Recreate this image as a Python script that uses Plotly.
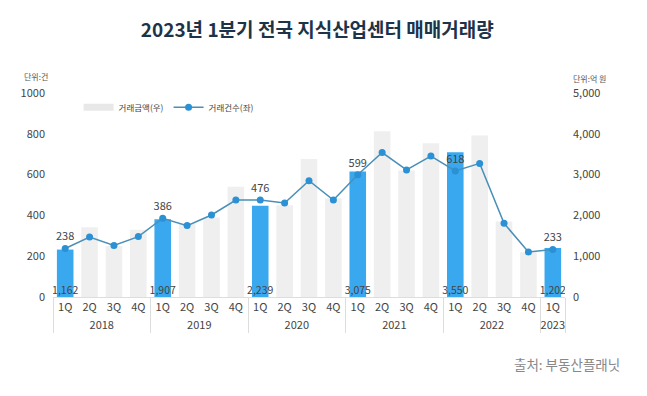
import plotly.graph_objects as go

years = ["2018"] * 4 + ["2019"] * 4 + ["2020"] * 4 + ["2021"] * 4 + ["2022"] * 4 + ["2023"]
quarters = ["1Q", "2Q", "3Q", "4Q"] * 5 + ["1Q"]

# 거래금액 (억 원, right axis)
amount = [1162, 1710, 1250, 1650,
          1907, 1800, 1950, 2700,
          2239, 2250, 3380, 2420,
          3075, 4060, 3100, 3770,
          3550, 3960, 1850, 1100,
          1202]
# 거래건수 (건, left axis)
count = [238, 294, 253, 296,
         386, 350, 402, 475,
         476, 461, 570, 475,
         599, 708, 623, 691,
         618, 655, 361, 221,
         233]

FONT = "Noto Sans CJK KR, Noto Sans, sans-serif"
BLUE = "#3AA8EE"
GRAY = "#EFEFEF"
LINE = "#4A8FB8"
DOT = "#2B90D4"

is_q1 = [q == "1Q" for q in quarters]
bar_colors = [BLUE if f else GRAY for f in is_q1]
bar_text = [f"{v:,}" if f else "" for v, f in zip(amount, is_q1)]
line_text = [f"{v}" if f else "" for v, f in zip(count, is_q1)]

fig = go.Figure()
fig.add_trace(go.Bar(
    x=[years, quarters], y=amount, name="거래금액(우)",
    marker=dict(color=bar_colors, line=dict(width=0)),
    width=0.68, yaxis="y", showlegend=False, hoverinfo="skip",
))
# legend proxy for gray bar (wide rectangle swatch)
fig.add_trace(go.Scatter(
    x=[[years[0]], [quarters[0]]], y=[None], name="거래금액(우)",
    mode="lines", line=dict(color="#E8E8E8", width=7), yaxis="y", showlegend=True,
))
fig.add_trace(go.Scatter(
    x=[years, quarters], y=[0] * len(amount), mode="text",
    text=bar_text, textposition="top center",
    textfont=dict(family=FONT, size=10.5, color="#444"),
    yaxis="y", showlegend=False, hoverinfo="skip",
))
fig.add_trace(go.Scatter(
    x=[years, quarters], y=count, name="거래건수(좌)",
    mode="lines+markers+text",
    line=dict(color=LINE, width=1.5),
    marker=dict(color=DOT, size=7),
    text=line_text, textposition="top center",
    textfont=dict(family=FONT, size=11, color="#444"),
    yaxis="y2",
))

# page body has an 8px margin: figure is offset by 8px right/down
fig.update_layout(
    width=639, height=388,
    margin=dict(l=45, r=82, t=85, b=99, autoexpand=False),
    paper_bgcolor="white", plot_bgcolor="white",
    font=dict(family=FONT, size=11, color="#444"),
    title=dict(text="<b>2023년 1분기 전국 지식산업센터 매매거래량</b>",
               x=0.484, xanchor="center", y=0.943, yanchor="middle",
               font=dict(family=FONT, size=19, color="#1D3349")),
    barmode="overlay",
    legend=dict(orientation="h", x=0.05, y=0.93, xanchor="left", yanchor="middle",
                font=dict(family=FONT, size=8.5, color="#444"),
                bgcolor="rgba(0,0,0,0)", traceorder="normal", itemwidth=30,
                tracegroupgap=0),
    xaxis=dict(
        type="multicategory", showgrid=False, showline=True,
        range=[-0.5, len(quarters) - 0.5], autorange=False,
        linecolor="#DDDDDD", linewidth=1, ticks="",
        showdividers=True, dividercolor="#DDDDDD", dividerwidth=1,
        tickfont=dict(family=FONT, size=11, color="#444"),
        automargin=False,
    ),
    yaxis=dict(
        side="right", range=[0, 5000], tickvals=[0, 1000, 2000, 3000, 4000, 5000],
        tickformat=",", showgrid=False, zeroline=False, showline=False,
        ticklabelstandoff=7, automargin=False,
        tickfont=dict(family=FONT, size=11, color="#444"),
    ),
    yaxis2=dict(
        side="left", overlaying="y", range=[0, 1000],
        tickvals=[0, 200, 400, 600, 800, 1000], tickformat="d",
        showgrid=False, zeroline=False, showline=False,
        ticklabelstandoff=7, automargin=False,
        tickfont=dict(family=FONT, size=11, color="#444"),
    ),
)

fig.add_annotation(text="단위:건", xref="paper", yref="paper", x=-0.06, y=1.08,
                   xanchor="left", yanchor="middle", showarrow=False,
                   font=dict(family=FONT, size=8, color="#555"))
fig.add_annotation(text="단위:억 원", xref="paper", yref="paper", x=1.012, y=1.07,
                   xanchor="left", yanchor="middle", showarrow=False,
                   font=dict(family=FONT, size=8, color="#555"))
fig.add_annotation(text="출처: 부동산플래닛", xref="paper", yref="paper", x=1.111, y=-0.328,
                   xanchor="right", yanchor="middle", showarrow=False,
                   font=dict(family=FONT, size=13.5, color="#888"))

fig.write_html("out.html")
